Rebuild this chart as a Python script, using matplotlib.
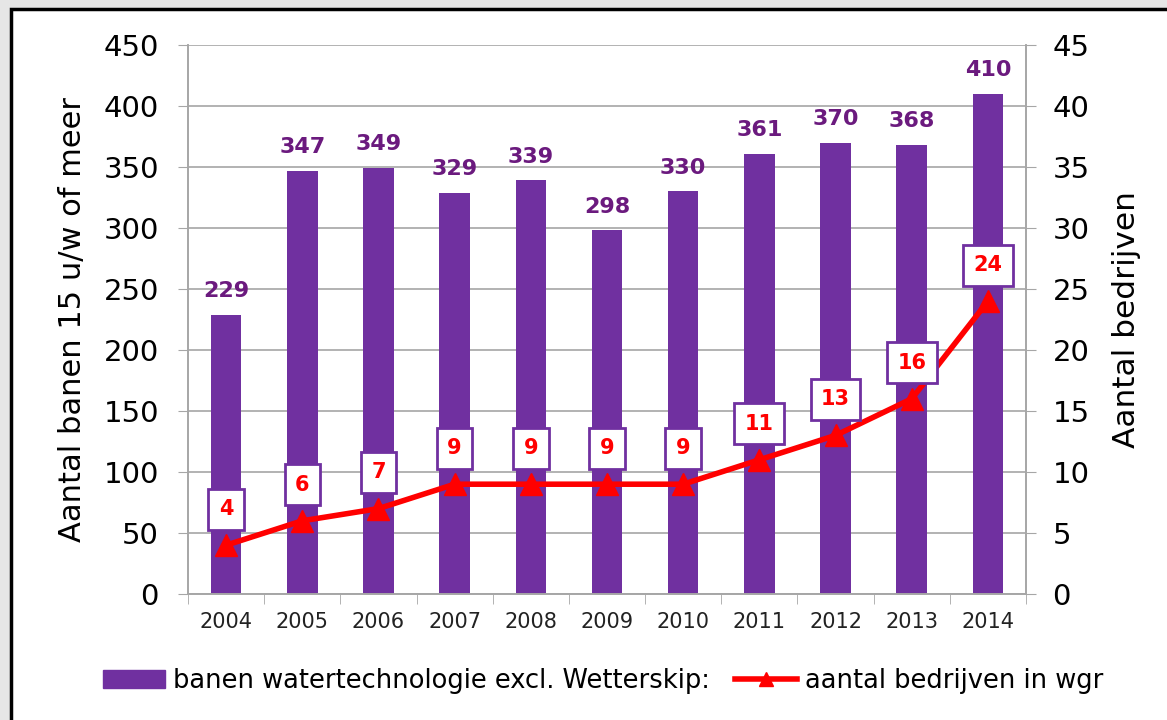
import matplotlib.pyplot as plt
import matplotlib.patches as mpatches
import numpy as np

years = ['2004', '2005', '2006', '2007', '2008', '2009', '2010', '2011', '2012', '2013', '2014']
banen = [229, 347, 349, 329, 339, 298, 330, 361, 370, 368, 410]
bedrijven = [4, 6, 7, 9, 9, 9, 9, 11, 13, 16, 24]

purple = '#7030a0'
label_purple = '#6b1a7e'
red = '#ff0000'
grid_grey = '#a6a6a6'

fig = plt.figure(figsize=(11.67, 7.2), dpi=100)
fig.patch.set_facecolor('#e6e6e6')
# witte kaart met zwarte rand links/boven
frame = mpatches.Rectangle((11 / 1167, -0.01), 1.1, 1 - 9 / 720 + 0.01,
                           transform=fig.transFigure, facecolor='white',
                           edgecolor='black', linewidth=2.5, zorder=-10)
fig.patches.append(frame)

ax = fig.add_axes([188 / 1167, 1 - 594 / 720, (1026 - 188) / 1167, (594 - 45) / 720])
ax.set_facecolor('white')
x = np.arange(len(years))

# staven
ax.bar(x, banen, width=0.4, color=purple, zorder=2)
for xi, v in zip(x, banen):
    ax.annotate(str(v), (xi, v), xytext=(0, 10), textcoords='offset points',
                ha='center', va='bottom', fontsize=16, fontweight='bold',
                color=label_purple, zorder=5)

ax.set_ylim(0, 450)
ax.set_yticks(np.arange(0, 451, 50))
ax.set_xlim(-0.5, len(years) - 0.5)
ax.set_xticks(x)
ax.set_xticklabels(years, fontsize=15)
ax.set_xticks(np.arange(-0.5, len(years), 1), minor=True)
ax.tick_params(axis='x', which='major', length=0, pad=13, colors='#222222')
ax.tick_params(axis='x', which='minor', length=7, color=grid_grey)
ax.tick_params(axis='y', labelsize=21, length=7, pad=14, color=grid_grey, labelcolor='black')
ax.yaxis.grid(True, color=grid_grey, linewidth=1.2, zorder=0)
ax.set_axisbelow(True)
for s in ['left', 'right', 'bottom']:
    ax.spines[s].set_color(grid_grey)
    ax.spines[s].set_linewidth(1.2)
ax.spines['top'].set_visible(False)
ax.set_ylabel('Aantal banen 15 u/w of meer', fontsize=22, labelpad=12)

# lijn op rechter as
ax2 = ax.twinx()
ax2.plot(x, bedrijven, color=red, linewidth=4, marker='^', markersize=16, zorder=4)
for xi, v in zip(x, bedrijven):
    ax2.annotate(str(v), (xi, v), xytext=(0, 26), textcoords='offset points',
                 ha='center', va='center', fontsize=15, fontweight='bold', color=red,
                 bbox=dict(boxstyle='square,pad=0.5', facecolor='white',
                           edgecolor=purple, linewidth=2), zorder=6)
ax2.set_ylim(0, 45)
ax2.set_yticks(np.arange(0, 46, 5))
ax2.tick_params(axis='y', labelsize=21, length=7, pad=12, color=grid_grey)
for s in ['left', 'right', 'bottom']:
    ax2.spines[s].set_color(grid_grey)
    ax2.spines[s].set_linewidth(1.2)
ax2.spines['top'].set_visible(False)
ax2.set_ylabel('Aantal bedrijven', fontsize=22.5, labelpad=16)

# legenda
h1 = mpatches.Patch(color=purple)
h2 = plt.Line2D([], [], color=red, linewidth=4, marker='^', markersize=10)
fig.legend([h1, h2], ['banen watertechnologie excl. Wetterskip:', 'aantal bedrijven in wgr'],
           loc='center', bbox_to_anchor=(0.517, 1 - 681 / 720), ncol=2, frameon=False,
           fontsize=18.5, handlelength=2.4, handletextpad=0.3, columnspacing=1.0)

fig.savefig('out.png', dpi=100, facecolor=fig.get_facecolor())
